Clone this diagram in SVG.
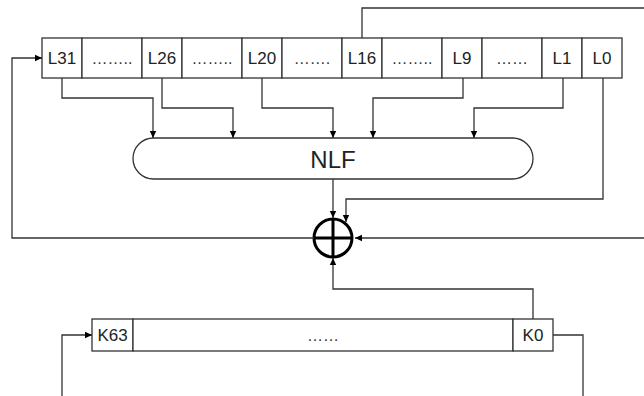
<svg xmlns="http://www.w3.org/2000/svg" width="644" height="396" viewBox="0 0 644 396">
<defs>
<marker id="arr" markerWidth="8" markerHeight="8" refX="7" refY="4" orient="auto" markerUnits="userSpaceOnUse">
<path d="M0,0.8 L7,4 L0,7.2 Z" fill="#000"/>
</marker>
</defs>
<style>
.cell{fill:#fff;stroke:#333;stroke-width:1.3}
.t{font-family:"Liberation Sans",Arial,sans-serif;font-size:17px;fill:#222;text-anchor:middle}
.d{font-family:"Liberation Sans",Arial,sans-serif;font-size:16px;fill:#333;text-anchor:middle}
.c{fill:none;stroke:#333;stroke-width:1.3}
</style>
<rect width="644" height="396" fill="#fff"/>
<g id="lfsr">
<rect class="cell" x="42" y="38" width="40" height="40"/>
<rect class="cell" x="82" y="38" width="60" height="40"/>
<rect class="cell" x="142" y="38" width="40" height="40"/>
<rect class="cell" x="182" y="38" width="60" height="40"/>
<rect class="cell" x="242" y="38" width="40" height="40"/>
<rect class="cell" x="282" y="38" width="60" height="40"/>
<rect class="cell" x="342" y="38" width="40" height="40"/>
<rect class="cell" x="382" y="38" width="60" height="40"/>
<rect class="cell" x="442" y="38" width="40" height="40"/>
<rect class="cell" x="482" y="38" width="60" height="40"/>
<rect class="cell" x="542" y="38" width="40" height="40"/>
<rect class="cell" x="582" y="38" width="40" height="40"/>
<text class="t" x="62" y="64">L31</text>
<text class="d" x="112" y="64">……..</text>
<text class="t" x="162" y="64">L26</text>
<text class="d" x="212" y="64">……..</text>
<text class="t" x="262" y="64">L20</text>
<text class="d" x="312" y="64">…….</text>
<text class="t" x="362" y="64">L16</text>
<text class="d" x="412" y="64">……..</text>
<text class="t" x="462" y="64">L9</text>
<text class="d" x="512" y="64">……</text>
<text class="t" x="562" y="64">L1</text>
<text class="t" x="602" y="64">L0</text>
</g>
<g id="nlf">
<rect class="cell" x="133" y="138" width="400" height="41" rx="20.5" ry="20.5"/>
<text class="t" x="333" y="167.5" style="font-size:24px">NLF</text>
</g>
<g id="xor">
<circle cx="333" cy="238" r="19" fill="#fff" stroke="#000" stroke-width="3"/>
<line x1="333" y1="219" x2="333" y2="257" stroke="#000" stroke-width="3"/>
<line x1="314" y1="238" x2="352" y2="238" stroke="#000" stroke-width="3"/>
</g>
<g id="kreg">
<rect class="cell" x="92" y="319" width="41" height="32"/>
<rect class="cell" x="133" y="319" width="380" height="32"/>
<rect class="cell" x="513" y="319" width="40" height="32"/>
<text class="t" x="112.5" y="341">K63</text>
<text class="d" x="323" y="341">……</text>
<text class="t" x="533" y="341">K0</text>
</g>
<g id="connectors">
<polyline class="c" points="362,38 362,8 644,8"/>
<polyline class="c" points="62,78 62,98 153,98 153,138" marker-end="url(#arr)"/>
<polyline class="c" points="162,78 162,108 233,108 233,138" marker-end="url(#arr)"/>
<polyline class="c" points="262,78 262,108 333,108 333,138" marker-end="url(#arr)"/>
<polyline class="c" points="463,78 463,98 373,98 373,138" marker-end="url(#arr)"/>
<polyline class="c" points="563,78 563,108 474,108 474,138" marker-end="url(#arr)"/>
<polyline class="c" points="603,78 603,199 346,199 346,222" marker-end="url(#arr)"/>
<line class="c" x1="333" y1="179" x2="333" y2="218" marker-end="url(#arr)"/>
<line class="c" x1="644" y1="238" x2="355" y2="238" marker-end="url(#arr)"/>
<polyline class="c" points="314,238 12,238 12,58 42,58" marker-end="url(#arr)"/>
<polyline class="c" points="533,319 533,289 333,289 333,258" marker-end="url(#arr)"/>
<polyline class="c" points="553,335 583,335 583,396"/>
<polyline class="c" points="62,396 62,335 92,335" marker-end="url(#arr)"/>
</g>
</svg>
